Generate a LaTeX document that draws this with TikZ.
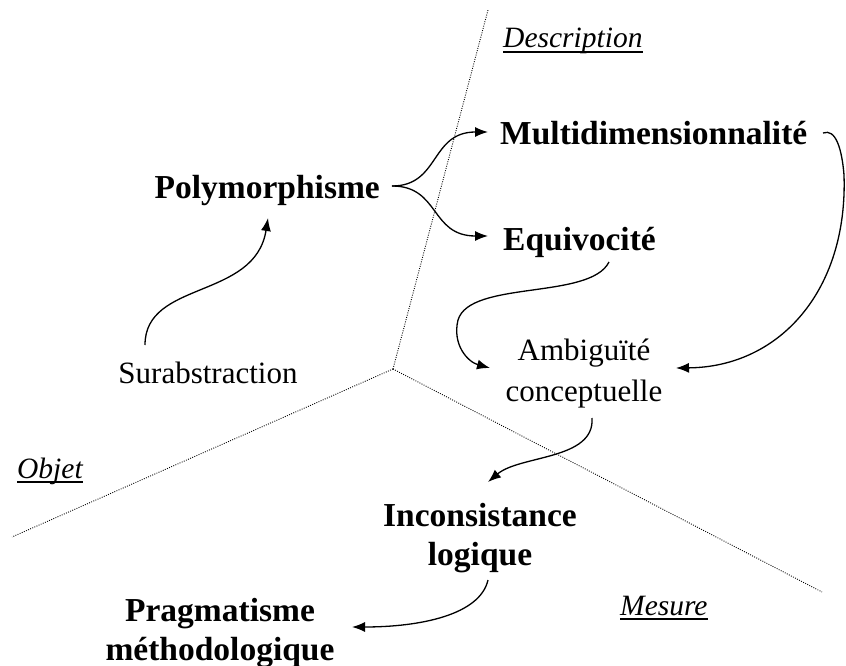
\documentclass[tikz,border=0pt]{standalone}
\usepackage{fontspec}
\setmainfont{Liberation Serif}
\usetikzlibrary{arrows.meta}
\tikzset{
  bold/.style={inner sep=0pt, font=\fontsize{33.5}{39}\selectfont\bfseries, align=center},
  reg/.style={inner sep=0pt, font=\fontsize{31}{41}\selectfont, align=center},
  axislbl/.style={inner sep=0pt, font=\fontsize{29.5}{34}\selectfont\itshape, anchor=base west},
  axis/.style={line width=0.9pt, dash pattern=on 0.9pt off 1.4pt},
  conn/.style={line width=1.3pt, -{Latex[length=13pt,width=10pt]}},
  uline/.style={line width=2pt}
}
\begin{document}
\begin{tikzpicture}[x=1pt,y=-1pt]
\useasboundingbox (0,0) rectangle (846,666);
% axes
\coordinate (O) at (393,369);
\coordinate (top) at (488,10);
\coordinate (left) at (12,537);
\coordinate (right) at (822,592);
\draw[axis] (O) -- (top);
\draw[axis] (O) -- (left);
\draw[axis] (O) -- (right);
% axis labels
\node[axislbl] (desc) at (503,48) {Description};
\node[axislbl] (objet) at (17,478) {Objet};
\node[axislbl] (mesure) at (620,615) {Mesure};
\draw[uline] ([yshift=-4pt]desc.base west) -- ([yshift=-4pt]desc.base east);
\draw[uline] ([yshift=-4pt]objet.base west) -- ([yshift=-4pt]objet.base east);
\draw[uline] ([yshift=-4pt]mesure.base west) -- ([yshift=-4pt]mesure.base east);
% concept nodes
\node[bold, anchor=base west] (multi) at (500,145) {Multidimensionnalité};
\node[bold, anchor=base east] (poly) at (380,198) {Polymorphisme};
\node[bold, anchor=base west] (equi) at (503,250) {Equivocité};
\node[reg, anchor=base] (sur) at (208,383) {Surabstraction};
\node[reg, anchor=base] (amb) at (584,401) {Ambiguïté\\conceptuelle};
\node[bold, anchor=base] (inc) at (480,565) {Inconsistance\\logique};
\node[bold, anchor=base] (prag) at (220,660) {Pragmatisme\\méthodologique};
% connector end points
\coordinate (surT) at (145,345);
\coordinate (polyB) at (268,218);
\coordinate (polyR) at (392,186);
\coordinate (multiL) at (488,132);
\coordinate (equiL) at (488,236);
\coordinate (multiR) at (823,133);
\coordinate (ambR) at (676,368);
\coordinate (equiB) at (609,262);
\coordinate (ambL) at (490,368);
\coordinate (ambB) at (592,418);
\coordinate (incT) at (488,482);
\coordinate (incB) at (488,580);
\coordinate (pragR) at (352,627);
% connectors
\draw[conn] (surT) .. controls (145,280) and (255,300) .. (polyB);
\draw[conn] (polyR) .. controls (440,186) and (430,132) .. (multiL);
\draw[conn] (polyR) .. controls (440,186) and (430,236) .. (equiL);
\draw[conn] (multiR) .. controls (836,128) and (842,150) .. (844,175) .. controls (848,290) and (780,367) .. (ambR);
\draw[conn] (equiB) .. controls (590,300) and (470,280) .. (458,320) .. controls (452,345) and (468,362) .. (ambL);
\draw[conn] (ambB) .. controls (595,460) and (520,455) .. (incT);
\draw[conn] (incB) .. controls (480,615) and (420,627) .. (pragR);
\end{tikzpicture}
\end{document}
